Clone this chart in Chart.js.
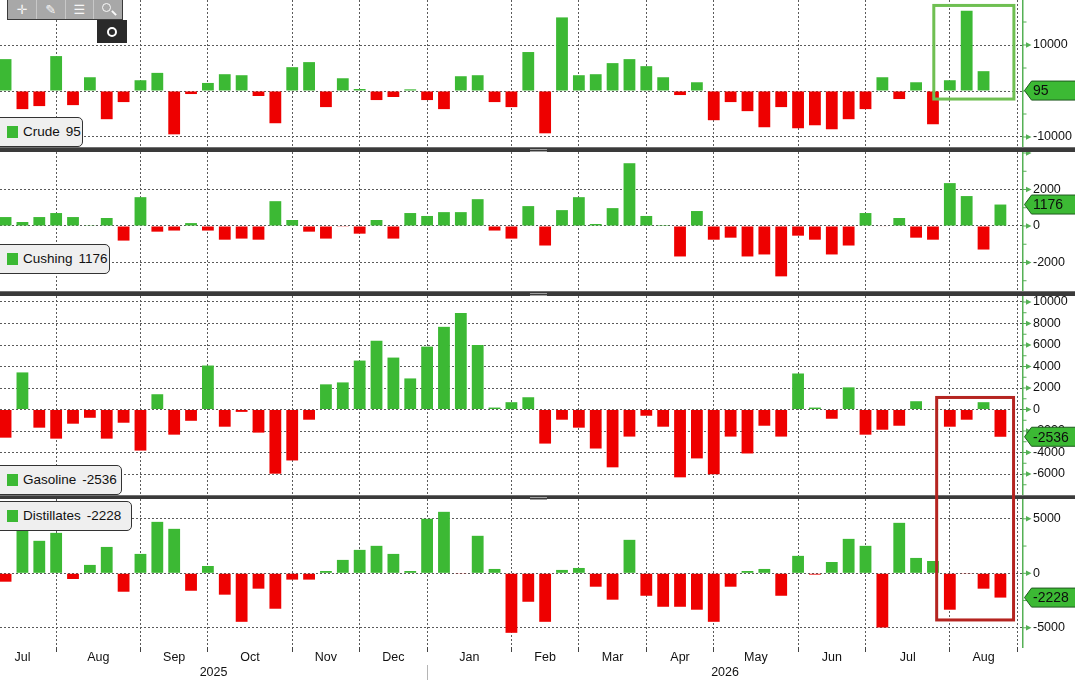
<!DOCTYPE html>
<html>
<head>
<meta charset="utf-8">
<script src="https://cdn.jsdelivr.net/npm/chart.js@4.4.0/dist/chart.umd.min.js"></script>
<style>
html,body{margin:0;padding:0;background:#fff;width:1075px;height:680px;overflow:hidden;font-family:"Liberation Sans",Arial,sans-serif;}
#wrap{position:relative;width:1075px;height:680px;}
canvas.panel{position:absolute;left:0;}
.divider{position:absolute;left:0;width:1075px;background:#3a3a3a;border-top:1px solid #707070;box-sizing:border-box;z-index:3;}
.grip{position:absolute;left:530px;top:1px;width:17px;height:1px;border-top:1px solid #a0a0a0;border-bottom:1px solid #a0a0a0;}
.leg{position:absolute;left:-1px;height:30px;background:#efefef;border:1px solid #333;border-radius:0 5px 5px 0;box-sizing:border-box;font-size:13.5px;color:#111;line-height:28px;padding-left:23px;white-space:nowrap;z-index:4;}
.leg i{position:absolute;left:7px;top:8px;width:11px;height:12px;background:#3cb934;}
.leg b{font-weight:normal;margin-left:6px;}
#tb{position:absolute;left:7px;top:0;width:116px;height:20px;background:#a8a8a8;border:1px solid #3a3a3a;border-top:none;box-sizing:border-box;display:flex;z-index:6;}
.tbc{flex:1;position:relative;border-right:1px solid #c8c8c8;color:#f6f6f6;font:13px "DejaVu Sans",sans-serif;text-align:center;line-height:19px;}
.tbc:last-child{border-right:none;}
.mag{position:absolute;left:8px;top:3px;width:7px;height:7px;border:1.5px solid #fafafa;border-radius:50%;}
.magh{position:absolute;left:17px;top:12px;width:6px;height:2px;background:#fafafa;transform:rotate(45deg);}
#tb2{position:absolute;left:97px;top:20px;width:30px;height:23px;background:#2a2a2a;z-index:6;}
#tb2 span{position:absolute;left:9.5px;top:6.5px;width:6px;height:6px;border:2.5px solid #fff;border-radius:50%;}
#ov{position:absolute;left:0;top:0;z-index:5;pointer-events:none;}
</style>
</head>
<body>
<div id="wrap">
  <canvas id="cCrude" class="panel" style="top:0px;width:1075px;height:147px" width="1075" height="147"></canvas>
  <canvas id="cCushing" class="panel" style="top:152px;width:1075px;height:139px" width="1075" height="139"></canvas>
  <canvas id="cGasoline" class="panel" style="top:296px;width:1075px;height:199px" width="1075" height="199"></canvas>
  <canvas id="cDist" class="panel" style="top:499px;width:1075px;height:181px" width="1075" height="181"></canvas>
  <div class="divider" style="top:147px;height:5px"><div class="grip"></div></div>
  <div class="divider" style="top:291px;height:5px"><div class="grip"></div></div>
  <div class="divider" style="top:495px;height:4px"><div class="grip"></div></div>
  <div id="legCrude" class="leg" style="top:117px;width:84px"></div>
  <div id="legCushing" class="leg" style="top:244px;width:111px"></div>
  <div id="legGasoline" class="leg" style="top:465px;width:123px"></div>
  <div id="legDist" class="leg" style="top:501px;width:133px"></div>
  <div id="tb">
    <div class="tbc">✛</div><div class="tbc">✎</div><div class="tbc">☰</div><div class="tbc"><span class="mag"></span><span class="magh"></span></div>
  </div>
  <div id="tb2"><span></span></div>
  <canvas id="ov" width="1075" height="680" style="width:1075px;height:680px"></canvas>
</div>
<script>
// ---------- DATA ----------
const weeks = ['2025-07-11','2025-07-18','2025-07-25','2025-08-01','2025-08-08','2025-08-15','2025-08-22','2025-08-29',
'2025-09-05','2025-09-12','2025-09-19','2025-09-26','2025-10-03','2025-10-10','2025-10-17','2025-10-24','2025-10-31',
'2025-11-07','2025-11-14','2025-11-21','2025-11-28','2025-12-05','2025-12-12','2025-12-19','2025-12-26',
'2026-01-02','2026-01-09','2026-01-16','2026-01-23','2026-01-30','2026-02-06','2026-02-13','2026-02-20','2026-02-27',
'2026-03-06','2026-03-13','2026-03-20','2026-03-27','2026-04-03','2026-04-10','2026-04-17','2026-04-24',
'2026-05-01','2026-05-08','2026-05-15','2026-05-22','2026-05-29','2026-06-05','2026-06-12','2026-06-19','2026-06-26',
'2026-07-03','2026-07-10','2026-07-17','2026-07-24','2026-07-31','2026-08-07','2026-08-14','2026-08-21','2026-08-28'];

const crude = [6930,-3940,-3280,7590,-3070,2990,-6130,-2410,2340,3940,
-9420,-660,1750,3650,3430,-1090,-7010,5180,6280,-3500,
2770,440,-1970,-1310,360,-1970,-3940,3210,3430,-2410,
-3500,8470,-9200,16000,3430,3650,6060,6930,5400,2990,
-880,1900,-6350,-2410,-4380,-7880,-3500,-8100,-7450,-8320,
-6130,-3940,2990,-1750,1900,-7230,2340,17450,4310,95];

const cushing = [490,220,490,710,490,40,440,-800,1580,-310,
-250,160,-250,-750,-690,-750,1360,330,-310,-690,
-40,-420,330,-690,710,550,760,760,1470,-250,
-690,1090,-1070,870,1580,110,980,3440,550,50,
-1670,820,-750,-640,-1670,-1560,-2760,-530,-750,-1560,
-1070,710,-30,440,-640,-750,2350,1640,-1290,1176];

const gasoline = [-2620,3450,-1690,-2710,-1320,-770,-2710,-1230,-3820,1420,
-2340,-1050,4090,-1600,-220,-2150,-5970,-4740,-950,2340,
2520,4550,6400,4830,2890,5850,7690,8980,6000,180,
680,1140,-3170,-950,-1690,-3630,-5380,-2520,-580,-1600,
-6310,-4550,-6030,-2520,-4090,-1510,-2520,3350,180,-860,
2060,-2340,-1880,-1510,770,30,-1600,-950,680,-2536];

const distillates = [-770,4260,2980,3710,-520,770,2420,-1690,1780,4720,
4080,-1600,670,-1960,-4450,-1410,-3250,-580,-580,210,
1230,2150,2520,1780,210,5000,5640,-60,3440,400,
-5460,-2610,-4450,310,490,-1230,-2420,3070,-2060,-3070,
-3070,-3340,-4450,-1230,210,400,-2060,1600,-120,1040,
3160,2520,-4970,4630,1410,1130,-3340,-30,-1410,-2228];

const seriesNames = ['Crude','Cushing','Gasoline','Distillates'];

// y-axis tick values (all tick marks) and labelled (major) values per panel
const crudeTicks = [-10000,-5000,0,5000,10000,15000];
const crudeLabels = [-10000,0,10000];
const cushingTicks = [-3000,-2000,-1000,0,1000,2000,3000,4000];
const cushingLabels = [-2000,0,2000];
const cushingArrows = [-2000,0,2000,4000];
const gasolineTicks = [-7000,-6000,-5000,-4000,-3000,-2000,-1000,0,1000,2000,3000,4000,5000,6000,7000,8000,9000,10000];
const gasolineLabels = [-6000,-4000,-2000,0,2000,4000,6000,8000,10000];
const distTicks = [-5000,-2500,0,2500,5000];
const distLabels = [-5000,0,5000];

const monthNames = ['Jan','Feb','Mar','Apr','May','Jun','Jul','Aug','Sep','Oct','Nov','Dec'];

// ---------- STYLE ----------
const GREEN = '#3cb934', RED = '#ee0000', AXIS = '#55b055', GRID = '#5a5a5a';
const FONT = '"Liberation Sans", Arial, sans-serif';
Chart.defaults.font.family = FONT;
const X_MIN = -0.33, X_MAX = 60.34;

// ---------- x positions: week slots, month starts ----------
const DAY = 864e5;
const t0 = Date.parse(weeks[0] + 'T00:00:00Z');
const tN = Date.parse(weeks[weeks.length - 1] + 'T00:00:00Z');
const wd = new Date(t0).getUTCDay();
const idxOf = ms => Math.round((ms - t0) / DAY) / 7;
function firstWeekIdx(y, m) {
  const d = Date.UTC(y, m, 1);
  const dow = new Date(d).getUTCDay();
  return idxOf(d + ((wd - dow + 7) % 7) * DAY);
}
const months = [];
{
  const d0 = new Date(t0), dN = new Date(tN);
  const ymEnd = dN.getUTCFullYear() * 12 + dN.getUTCMonth() + 2;
  for (let ym = d0.getUTCFullYear() * 12 + d0.getUTCMonth(); ym <= ymEnd; ym++) {
    const y = Math.floor(ym / 12), m = ym % 12;
    months.push({ y, m, i: firstWeekIdx(y, m) });
  }
}
const monthStarts = months.filter(o => o.i >= X_MIN && o.i <= X_MAX).map(o => o.i);
const monthMids = [];
for (let k = 0; k < months.length - 1; k++) {
  const v = (months[k].i + months[k + 1].i) / 2;
  if (v >= X_MIN && v <= X_MAX) monthMids.push({ v, name: monthNames[months[k].m] });
}
const yearTicks = [];
for (let y = new Date(t0).getUTCFullYear(); y <= new Date(tN).getUTCFullYear(); y++) {
  const s = firstWeekIdx(y, 0), e = firstWeekIdx(y + 1, 0);
  const lo = Math.max(s, X_MIN), hi = Math.min(e, X_MAX);
  yearTicks.push({ v: (lo + hi) / 2, name: String(y) });
  if (s > X_MIN && s < X_MAX) yearTicks.push({ v: s, name: '', sep: true });
}
yearTicks.sort((a, b) => a.v - b.v);

// ---------- decoration plugin (axis arrows, last value tag) ----------
const decor = {
  id: 'decor',
  afterDraw(chart, args, o) {
    const ctx = chart.ctx, ys = chart.scales.y, ax = ys.left;
    const top = chart.chartArea.top, bot = chart.chartArea.bottom;
    ctx.save();
    ctx.strokeStyle = AXIS; ctx.fillStyle = AXIS; ctx.lineWidth = 1;
    ys.ticks.forEach(t => {
      const py = ys.getPixelForValue(t.value);
      if (py < top - 0.5 || py > bot + 0.5) return;
      if (o.arrows.includes(t.value)) {
        ctx.beginPath(); ctx.moveTo(ax, py); ctx.lineTo(ax + 4, py); ctx.stroke();
        ctx.beginPath(); ctx.moveTo(ax + 3, py - 2.8); ctx.lineTo(ax + 8.5, py); ctx.lineTo(ax + 3, py + 2.8); ctx.closePath(); ctx.fill();
      } else {
        ctx.beginPath(); ctx.moveTo(ax, py); ctx.lineTo(ax + 3.5, py); ctx.stroke();
      }
    });
    const last = o.values[o.values.length - 1];
    const ty = ys.getPixelForValue(last);
    const x0 = ax + 1.5, h = 19;
    ctx.beginPath();
    ctx.moveTo(x0, ty);
    ctx.lineTo(x0 + 7, ty - h / 2);
    ctx.lineTo(chart.width + 2, ty - h / 2);
    ctx.lineTo(chart.width + 2, ty + h / 2);
    ctx.lineTo(x0 + 7, ty + h / 2);
    ctx.closePath();
    ctx.fillStyle = GREEN; ctx.fill();
    ctx.strokeStyle = '#1f5a1f'; ctx.lineWidth = 1; ctx.stroke();
    ctx.fillStyle = '#0d0d0d';
    ctx.font = '14px ' + FONT;
    ctx.textBaseline = 'middle'; ctx.textAlign = 'left';
    ctx.fillText(String(last), x0 + 8.5, ty + 1);
    ctx.restore();
  }
};

function makePanel(canvasId, values, yMin, yMax, tickVals, labelVals, arrowVals, bottom) {
  const scales = {
    x: {
      type: 'linear', position: 'bottom', weight: 1, min: X_MIN, max: X_MAX, offset: false,
      afterBuildTicks: s => { s.ticks = monthStarts.map(v => ({ value: v })); },
      afterFit: s => { s.paddingLeft = 0; s.paddingRight = 0; },
      grid: { offset: false, color: GRID, lineWidth: 1, drawTicks: !!bottom, tickLength: 5, tickColor: '#444' },
      border: { display: false, dash: [2, 2] },
      ticks: { display: false }
    },
    y: {
      type: 'linear', position: 'right', min: yMin, max: yMax,
      afterBuildTicks: s => { s.ticks = tickVals.map(v => ({ value: v })); },
      afterFit: s => { s.width = 52; s.paddingTop = 0; s.paddingBottom = 0; },
      grid: {
        color: c => (c.tick && labelVals.includes(c.tick.value)) ? GRID : 'rgba(0,0,0,0)',
        lineWidth: 1, drawTicks: true, tickLength: 8, tickColor: 'rgba(0,0,0,0)'
      },
      border: { display: true, color: AXIS, width: 1.5, dash: [2, 2] },
      ticks: {
        autoSkip: false, padding: 2, color: '#111', font: { size: 12.5, family: FONT },
        callback: v => labelVals.includes(v) ? String(v) : ''
      }
    }
  };
  if (bottom) {
    scales.xm = {
      type: 'linear', position: 'bottom', weight: 2, min: X_MIN, max: X_MAX, offset: false,
      afterBuildTicks: s => { s.ticks = monthMids.map(m => ({ value: m.v })); },
      afterFit: s => { s.height = 13; s.paddingLeft = 0; s.paddingRight = 0; },
      grid: { offset: false, display: false, drawTicks: false },
      border: { display: false },
      ticks: { autoSkip: false, maxRotation: 0, padding: -2, color: '#111', font: { size: 12.5, family: FONT },
        callback: (v, i) => monthMids[i] ? monthMids[i].name : '' }
    };
    scales.xy = {
      type: 'linear', position: 'bottom', weight: 3, min: X_MIN, max: X_MAX, offset: false,
      afterBuildTicks: s => { s.ticks = yearTicks.map(t => ({ value: t.v })); },
      afterFit: s => { s.height = 15; s.paddingLeft = 0; s.paddingRight = 0; },
      grid: { offset: false, display: true, drawOnChartArea: false, drawTicks: true, tickLength: 15, tickWidth: 1,
        tickColor: c => (yearTicks[c.index] && yearTicks[c.index].sep) ? '#b5b5b5' : 'rgba(0,0,0,0)' },
      border: { display: false },
      ticks: { autoSkip: false, maxRotation: 0, padding: -14.5, color: '#111', font: { size: 12.5, family: FONT },
        callback: (v, i) => yearTicks[i] ? yearTicks[i].name : '' }
    };
  }
  return new Chart(document.getElementById(canvasId), {
    type: 'bar',
    data: {
      datasets: [{
        data: values.map((v, i) => ({ x: i, y: v })),
        backgroundColor: values.map(v => v >= 0 ? GREEN : RED),
        borderWidth: 0,
        barPercentage: 0.7,
        categoryPercentage: 1.0,
        xAxisID: 'x', yAxisID: 'y'
      }]
    },
    options: {
      responsive: false, animation: false, events: [],
      layout: { padding: 0 },
      plugins: { legend: { display: false }, tooltip: { enabled: false },
        decor: { values, arrows: arrowVals } },
      scales
    },
    plugins: [decor]
  });
}

const chCrude = makePanel('cCrude', crude, -12174, 19783, crudeTicks, crudeLabels, crudeLabels, false);
const chCushing = makePanel('cCushing', cushing, -3562, 4055, cushingTicks, cushingLabels, cushingArrows, false);
const chGasoline = makePanel('cGasoline', gasoline, -7953, 10558, gasolineTicks, gasolineLabels, gasolineLabels, false);
const chDist = makePanel('cDist', distillates, -6761, 6817, distTicks, distLabels, distLabels, true);

// ---------- legend boxes ----------
[[ 'legCrude', crude ], [ 'legCushing', cushing ], [ 'legGasoline', gasoline ], [ 'legDist', distillates ]].forEach(([id, vals], k) => {
  const el = document.getElementById(id);
  el.innerHTML = '<i></i>' + seriesNames[k] + '<b>' + vals[vals.length - 1] + '</b>';
});

// ---------- highlight boxes (in data coordinates, via chart scales) ----------
(function () {
  const ov = document.getElementById('ov').getContext('2d');
  const off = id => document.getElementById(id).offsetTop;
  const cx = chCrude.scales.x, cy = chCrude.scales.y;
  const gx1 = cx.getPixelForValue(55.05), gx2 = cx.getPixelForValue(59.8);
  const gy1 = off('cCrude') + cy.getPixelForValue(18600), gy2 = off('cCrude') + cy.getPixelForValue(-1750);
  ov.strokeStyle = '#6fbf52'; ov.lineWidth = 3;
  ov.strokeRect(gx1, gy1, gx2 - gx1, gy2 - gy1);
  const gsx = chGasoline.scales.x, gsy = chGasoline.scales.y, dsy = chDist.scales.y;
  const rx1 = gsx.getPixelForValue(55.22), rx2 = gsx.getPixelForValue(59.78);
  const ry1 = off('cGasoline') + gsy.getPixelForValue(1120);
  const ry2 = off('cDist') + dsy.getPixelForValue(-4280);
  ov.strokeStyle = '#b52420'; ov.lineWidth = 3;
  ov.strokeRect(rx1, ry1, rx2 - rx1, ry2 - ry1);
})();
</script>
</body>
</html>
